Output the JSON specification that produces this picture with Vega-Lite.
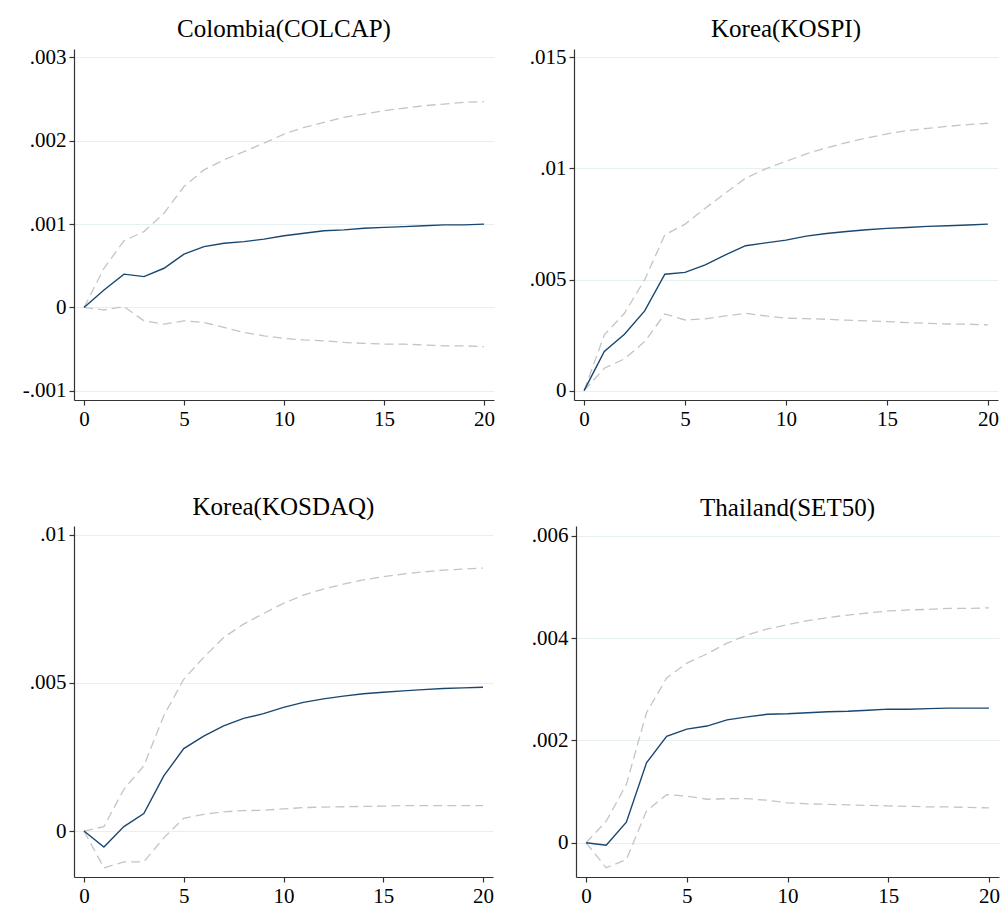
{
  "$schema": "https://vega.github.io/schema/vega-lite/v6.json",
  "background": "white",
  "padding": {"left": 22, "top": 17, "right": 0, "bottom": 0},
  "datasets": {
    "irf": [
      {"p":"COL","s":0,"irf":0,"lo":0,"hi":0},
      {"p":"COL","s":1,"irf":0.00021,"lo":-0.00003,"hi":0.00047},
      {"p":"COL","s":2,"irf":0.0004,"lo":0.00001,"hi":0.0008},
      {"p":"COL","s":3,"irf":0.00037,"lo":-0.00016,"hi":0.00091},
      {"p":"COL","s":4,"irf":0.00047,"lo":-0.0002,"hi":0.00113},
      {"p":"COL","s":5,"irf":0.00064,"lo":-0.00016,"hi":0.00145},
      {"p":"COL","s":6,"irf":0.00073,"lo":-0.00018,"hi":0.00165},
      {"p":"COL","s":7,"irf":0.00077,"lo":-0.00024,"hi":0.00177},
      {"p":"COL","s":8,"irf":0.00079,"lo":-0.0003,"hi":0.00187},
      {"p":"COL","s":9,"irf":0.00082,"lo":-0.00034,"hi":0.00197},
      {"p":"COL","s":10,"irf":0.00086,"lo":-0.00037,"hi":0.00208},
      {"p":"COL","s":11,"irf":0.00089,"lo":-0.00039,"hi":0.00216},
      {"p":"COL","s":12,"irf":0.00092,"lo":-0.0004,"hi":0.00222},
      {"p":"COL","s":13,"irf":0.00093,"lo":-0.00042,"hi":0.00228},
      {"p":"COL","s":14,"irf":0.00095,"lo":-0.00043,"hi":0.00232},
      {"p":"COL","s":15,"irf":0.00096,"lo":-0.00044,"hi":0.00236},
      {"p":"COL","s":16,"irf":0.00097,"lo":-0.00044,"hi":0.00239},
      {"p":"COL","s":17,"irf":0.00098,"lo":-0.00045,"hi":0.00242},
      {"p":"COL","s":18,"irf":0.00099,"lo":-0.00046,"hi":0.00244},
      {"p":"COL","s":19,"irf":0.00099,"lo":-0.00046,"hi":0.00246},
      {"p":"COL","s":20,"irf":0.001,"lo":-0.00047,"hi":0.00247},
      {"p":"KOSPI","s":0,"irf":0,"lo":0,"hi":0},
      {"p":"KOSPI","s":1,"irf":0.00176,"lo":0.00101,"hi":0.00251},
      {"p":"KOSPI","s":2,"irf":0.00254,"lo":0.00143,"hi":0.00348},
      {"p":"KOSPI","s":3,"irf":0.00359,"lo":0.00221,"hi":0.00499},
      {"p":"KOSPI","s":4,"irf":0.00524,"lo":0.00345,"hi":0.00701},
      {"p":"KOSPI","s":5,"irf":0.00532,"lo":0.00318,"hi":0.00749},
      {"p":"KOSPI","s":6,"irf":0.00566,"lo":0.00323,"hi":0.00821},
      {"p":"KOSPI","s":7,"irf":0.00611,"lo":0.00336,"hi":0.00889},
      {"p":"KOSPI","s":8,"irf":0.00652,"lo":0.00348,"hi":0.00956},
      {"p":"KOSPI","s":9,"irf":0.00665,"lo":0.00336,"hi":0.00998},
      {"p":"KOSPI","s":10,"irf":0.00677,"lo":0.00326,"hi":0.01032},
      {"p":"KOSPI","s":11,"irf":0.00695,"lo":0.00324,"hi":0.01065},
      {"p":"KOSPI","s":12,"irf":0.00707,"lo":0.00321,"hi":0.01092},
      {"p":"KOSPI","s":13,"irf":0.00716,"lo":0.00317,"hi":0.01116},
      {"p":"KOSPI","s":14,"irf":0.00724,"lo":0.00314,"hi":0.01137},
      {"p":"KOSPI","s":15,"irf":0.0073,"lo":0.00311,"hi":0.01155},
      {"p":"KOSPI","s":16,"irf":0.00734,"lo":0.00306,"hi":0.0117},
      {"p":"KOSPI","s":17,"irf":0.00739,"lo":0.00303,"hi":0.0118},
      {"p":"KOSPI","s":18,"irf":0.00742,"lo":0.003,"hi":0.01189},
      {"p":"KOSPI","s":19,"irf":0.00745,"lo":0.00299,"hi":0.01197},
      {"p":"KOSPI","s":20,"irf":0.00749,"lo":0.00296,"hi":0.01203},
      {"p":"KOSDAQ","s":0,"irf":0,"lo":0,"hi":0},
      {"p":"KOSDAQ","s":1,"irf":-0.00054,"lo":-0.00124,"hi":0.00015},
      {"p":"KOSDAQ","s":2,"irf":0.00015,"lo":-0.00104,"hi":0.00141},
      {"p":"KOSDAQ","s":3,"irf":0.00059,"lo":-0.00104,"hi":0.0022},
      {"p":"KOSDAQ","s":4,"irf":0.00186,"lo":-0.00023,"hi":0.00389},
      {"p":"KOSDAQ","s":5,"irf":0.00278,"lo":0.00043,"hi":0.00512},
      {"p":"KOSDAQ","s":6,"irf":0.0032,"lo":0.00056,"hi":0.00586},
      {"p":"KOSDAQ","s":7,"irf":0.00355,"lo":0.00065,"hi":0.00653},
      {"p":"KOSDAQ","s":8,"irf":0.0038,"lo":0.00069,"hi":0.00698},
      {"p":"KOSDAQ","s":9,"irf":0.00396,"lo":0.0007,"hi":0.00734},
      {"p":"KOSDAQ","s":10,"irf":0.00417,"lo":0.00075,"hi":0.00768},
      {"p":"KOSDAQ","s":11,"irf":0.00434,"lo":0.00079,"hi":0.00796},
      {"p":"KOSDAQ","s":12,"irf":0.00446,"lo":0.00081,"hi":0.00816},
      {"p":"KOSDAQ","s":13,"irf":0.00455,"lo":0.00082,"hi":0.00833},
      {"p":"KOSDAQ","s":14,"irf":0.00463,"lo":0.00083,"hi":0.00847},
      {"p":"KOSDAQ","s":15,"irf":0.00468,"lo":0.00084,"hi":0.00858},
      {"p":"KOSDAQ","s":16,"irf":0.00473,"lo":0.00086,"hi":0.00867},
      {"p":"KOSDAQ","s":17,"irf":0.00477,"lo":0.00086,"hi":0.00874},
      {"p":"KOSDAQ","s":18,"irf":0.00481,"lo":0.00086,"hi":0.0088},
      {"p":"KOSDAQ","s":19,"irf":0.00483,"lo":0.00086,"hi":0.00884},
      {"p":"KOSDAQ","s":20,"irf":0.00485,"lo":0.00086,"hi":0.00887},
      {"p":"SET","s":0,"irf":0,"lo":0,"hi":0},
      {"p":"SET","s":1,"irf":-0.00005,"lo":-0.00049,"hi":0.00042},
      {"p":"SET","s":2,"irf":0.0004,"lo":-0.00033,"hi":0.00114},
      {"p":"SET","s":3,"irf":0.00156,"lo":0.00062,"hi":0.00254},
      {"p":"SET","s":4,"irf":0.00208,"lo":0.00094,"hi":0.00322},
      {"p":"SET","s":5,"irf":0.00222,"lo":0.00091,"hi":0.00351},
      {"p":"SET","s":6,"irf":0.00228,"lo":0.00085,"hi":0.00369},
      {"p":"SET","s":7,"irf":0.0024,"lo":0.00086,"hi":0.0039},
      {"p":"SET","s":8,"irf":0.00246,"lo":0.00086,"hi":0.00406},
      {"p":"SET","s":9,"irf":0.00251,"lo":0.00083,"hi":0.00418},
      {"p":"SET","s":10,"irf":0.00252,"lo":0.00078,"hi":0.00426},
      {"p":"SET","s":11,"irf":0.00254,"lo":0.00076,"hi":0.00434},
      {"p":"SET","s":12,"irf":0.00256,"lo":0.00075,"hi":0.0044},
      {"p":"SET","s":13,"irf":0.00257,"lo":0.00074,"hi":0.00445},
      {"p":"SET","s":14,"irf":0.00259,"lo":0.00073,"hi":0.00449},
      {"p":"SET","s":15,"irf":0.00261,"lo":0.00072,"hi":0.00453},
      {"p":"SET","s":16,"irf":0.00261,"lo":0.00071,"hi":0.00455},
      {"p":"SET","s":17,"irf":0.00262,"lo":0.0007,"hi":0.00456},
      {"p":"SET","s":18,"irf":0.00263,"lo":0.0007,"hi":0.00458},
      {"p":"SET","s":19,"irf":0.00263,"lo":0.00069,"hi":0.00458},
      {"p":"SET","s":20,"irf":0.00263,"lo":0.00068,"hi":0.00459}
    ]
  },
  "data": {"name": "irf"},
  "vconcat": [
    {
      "hconcat": [
        {
          "width": 420, "height": 351,
          "title": "Colombia(COLCAP)",
          "transform": [{"filter": "datum.p === 'COL'"}],
          "encoding": {"x": {"field": "s", "type": "quantitative", "scale": {"domain": [-0.5, 20.5], "nice": false, "zero": false}, "axis": {"values": [0, 5, 10, 15, 20], "title": null}}},
          "layer": [
            {"mark": {"type": "line", "color": "#c4c4c4", "strokeDash": [9, 5], "strokeWidth": 1.3},
             "encoding": {"y": {"field": "hi", "type": "quantitative", "scale": {"domain": [-0.00111, 0.0031], "nice": false, "zero": false}, "axis": {"values": [-0.001, 0, 0.001, 0.002, 0.003], "labelExpr": "replace(replace(format(datum.value, '.3~f'), '0.', '.'), '\u2212', '-')", "title": null}}}},
            {"mark": {"type": "line", "color": "#c4c4c4", "strokeDash": [9, 5], "strokeWidth": 1.3},
             "encoding": {"y": {"field": "lo", "type": "quantitative", "title": null}}},
            {"mark": {"type": "line", "color": "#1a476f", "strokeWidth": 1.4},
             "encoding": {"y": {"field": "irf", "type": "quantitative", "title": null}}}
          ]
        },
        {
          "width": 424, "height": 351,
          "title": "Korea(KOSPI)",
          "transform": [{"filter": "datum.p === 'KOSPI'"}],
          "encoding": {"x": {"field": "s", "type": "quantitative", "scale": {"domain": [-0.5, 20.5], "nice": false, "zero": false}, "axis": {"values": [0, 5, 10, 15, 20], "title": null}}},
          "layer": [
            {"mark": {"type": "line", "color": "#c4c4c4", "strokeDash": [9, 5], "strokeWidth": 1.3},
             "encoding": {"y": {"field": "hi", "type": "quantitative", "scale": {"domain": [-0.00042, 0.01537], "nice": false, "zero": false}, "axis": {"values": [0, 0.005, 0.01, 0.015], "labelExpr": "replace(format(datum.value, '.3~f'), '0.', '.')", "title": null}}}},
            {"mark": {"type": "line", "color": "#c4c4c4", "strokeDash": [9, 5], "strokeWidth": 1.3},
             "encoding": {"y": {"field": "lo", "type": "quantitative", "title": null}}},
            {"mark": {"type": "line", "color": "#1a476f", "strokeWidth": 1.4},
             "encoding": {"y": {"field": "irf", "type": "quantitative", "title": null}}}
          ]
        }
      ],
      "spacing": 34
    },
    {
      "hconcat": [
        {
          "width": 419, "height": 351,
          "title": "Korea(KOSDAQ)",
          "transform": [{"filter": "datum.p === 'KOSDAQ'"}],
          "encoding": {"x": {"field": "s", "type": "quantitative", "scale": {"domain": [-0.5, 20.5], "nice": false, "zero": false}, "axis": {"values": [0, 5, 10, 15, 20], "title": null}}},
          "layer": [
            {"mark": {"type": "line", "color": "#c4c4c4", "strokeDash": [9, 5], "strokeWidth": 1.3},
             "encoding": {"y": {"field": "hi", "type": "quantitative", "scale": {"domain": [-0.00155, 0.01029], "nice": false, "zero": false}, "axis": {"values": [0, 0.005, 0.01], "labelExpr": "replace(format(datum.value, '.3~f'), '0.', '.')", "title": null}}}},
            {"mark": {"type": "line", "color": "#c4c4c4", "strokeDash": [9, 5], "strokeWidth": 1.3},
             "encoding": {"y": {"field": "lo", "type": "quantitative", "title": null}}},
            {"mark": {"type": "line", "color": "#1a476f", "strokeWidth": 1.4},
             "encoding": {"y": {"field": "irf", "type": "quantitative", "title": null}}}
          ]
        },
        {
          "width": 423, "height": 351,
          "title": "Thailand(SET50)",
          "transform": [{"filter": "datum.p === 'SET'"}],
          "encoding": {"x": {"field": "s", "type": "quantitative", "scale": {"domain": [-0.5, 20.5], "nice": false, "zero": false}, "axis": {"values": [0, 5, 10, 15, 20], "title": null}}},
          "layer": [
            {"mark": {"type": "line", "color": "#c4c4c4", "strokeDash": [9, 5], "strokeWidth": 1.3},
             "encoding": {"y": {"field": "hi", "type": "quantitative", "scale": {"domain": [-0.00067, 0.00619], "nice": false, "zero": false}, "axis": {"values": [0, 0.002, 0.004, 0.006], "labelExpr": "replace(format(datum.value, '.3~f'), '0.', '.')", "title": null}}}},
            {"mark": {"type": "line", "color": "#c4c4c4", "strokeDash": [9, 5], "strokeWidth": 1.3},
             "encoding": {"y": {"field": "lo", "type": "quantitative", "title": null}}},
            {"mark": {"type": "line", "color": "#1a476f", "strokeWidth": 1.4},
             "encoding": {"y": {"field": "irf", "type": "quantitative", "title": null}}}
          ]
        }
      ],
      "spacing": 37
    }
  ],
  "spacing": 65,
  "config": {
    "font": "Liberation Serif",
    "view": {"stroke": null},
    "axis": {
      "labelFont": "Liberation Serif",
      "labelFontSize": 21,
      "labelColor": "#000000",
      "tickSize": 5,
      "tickColor": "#333333",
      "tickWidth": 1.2,
      "domainColor": "#333333",
      "domainWidth": 1.2,
      "labelPadding": 3,
      "gridColor": "#e6eff2",
      "gridWidth": 1
    },
    "axisX": {"grid": false, "labelPadding": 3},
    "axisY": {"grid": true},
    "title": {"font": "Liberation Serif", "fontSize": 25, "fontWeight": "normal", "color": "#000000", "anchor": "middle", "frame": "group", "offset": 4}
  }
}
